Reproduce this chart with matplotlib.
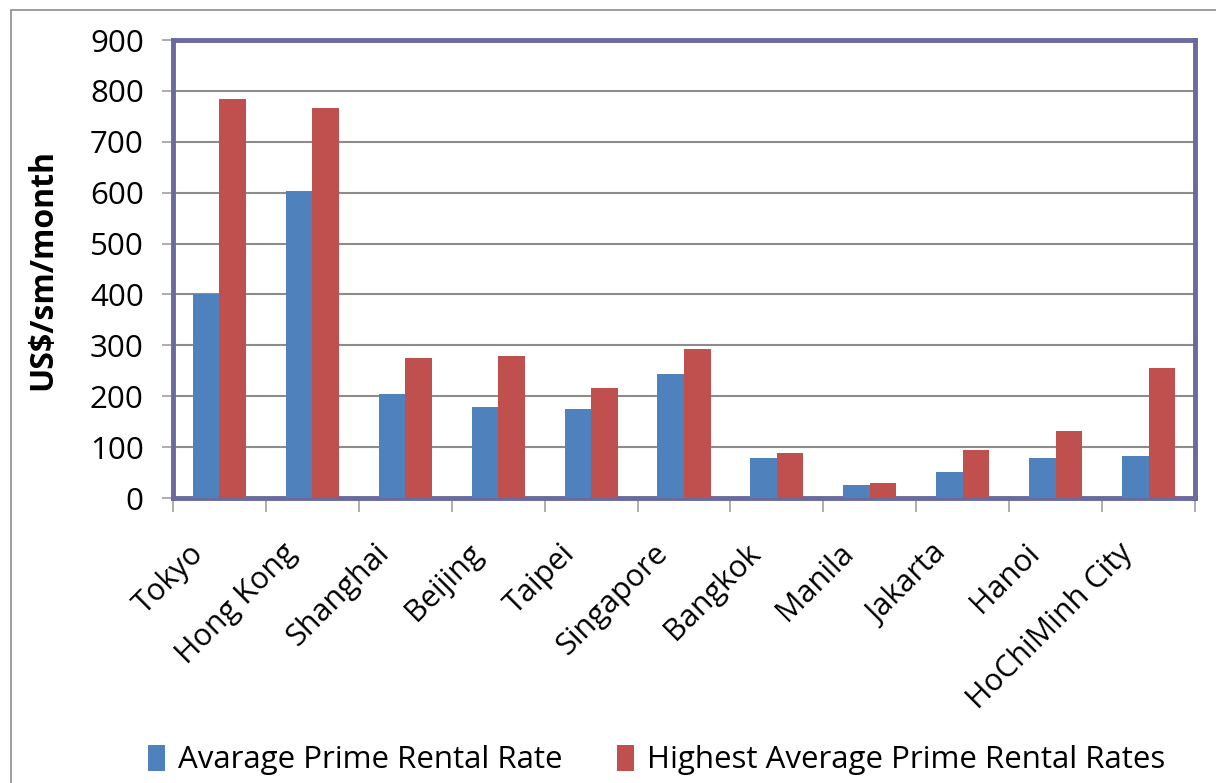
import matplotlib
matplotlib.use("Agg")
import matplotlib.pyplot as plt
import numpy as np
from matplotlib.patches import Rectangle

cities = ["Tokyo", "Hong Kong", "Shanghai", "Beijing", "Taipei", "Singapore",
          "Bangkok", "Manila", "Jakarta", "Hanoi", "HoChiMinh City"]
average_rate = [401, 603, 205, 179, 174, 243, 79, 25, 51, 79, 83]
highest_rate = [784, 766, 275, 279, 217, 293, 89, 29, 95, 132, 255]
y_ticks = [0, 100, 200, 300, 400, 500, 600, 700, 800, 900]

plt.rcParams['font.family'] = ['Open Sans', 'DejaVu Sans']

W, H = 1216, 783
fig = plt.figure(figsize=(W / 100, H / 100), dpi=100)
fig.patch.set_facecolor('white')
fig.patches.append(Rectangle((11 / W, -0.1), 1.2, 1 - 10 / H + 0.1, transform=fig.transFigure,
                             fill=False, edgecolor='#8c8c8c', linewidth=1.2, zorder=0))

ax = fig.add_axes([173 / W, 1 - 498 / H, (1195 - 173) / W, (498 - 40) / H])
x = np.arange(len(cities))
bw = 0.286
ax.bar(x - bw / 2, average_rate, bw, color='#4F81BD', label='Avarage Prime Rental Rate', zorder=3)
ax.bar(x + bw / 2, highest_rate, bw, color='#C0504D', label='Highest Average Prime Rental Rates', zorder=3)

ax.set_xlim(-0.5, len(cities) - 0.5)
ax.set_ylim(0, 900)
ax.set_yticks(y_ticks)
ax.set_yticklabels([str(v) for v in y_ticks], fontsize=22.5)
ax.yaxis.grid(True, color='#8c8c8c', linewidth=1.5, zorder=0)
ax.set_axisbelow(True)

ax.set_xticks(np.arange(len(cities) + 1) - 0.5)
ax.set_xticklabels([])
ax.tick_params(axis='x', length=10, width=1.2, color='#a0a0a0', direction='out')
ax.tick_params(axis='y', length=8, width=1.2, color='#a0a0a0', direction='out', pad=13)
for i, c in enumerate(cities):
    ax.text(i - 0.22, -100, c, rotation=45, rotation_mode='anchor', ha='right', va='center',
            fontsize=22, transform=ax.transData)

for s in ax.spines.values():
    s.set_color('#6A6A9E')
    s.set_linewidth(3.5)

ax.set_ylabel('US$/sm/month', fontsize=23, fontweight='bold', labelpad=22)

handles, labels = ax.get_legend_handles_labels()
fig.legend(handles, labels, loc='center', bbox_to_anchor=(0.54, 1 - 760 / H), ncol=2,
           frameon=False, fontsize=22.5, handlelength=0.55, handleheight=0.9,
           handletextpad=0.4, columnspacing=1.75)

fig.savefig('out.png', dpi=100)
